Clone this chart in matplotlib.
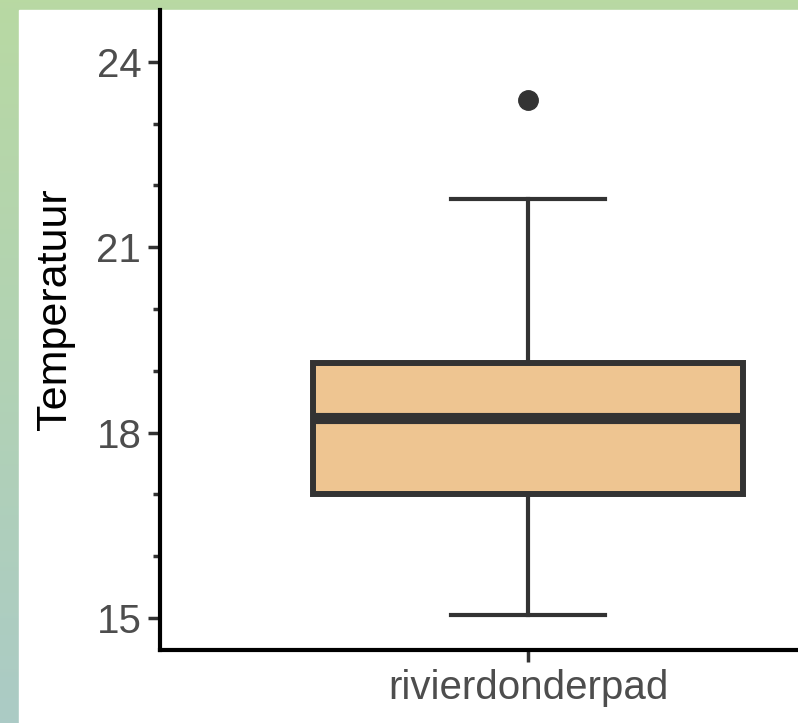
"""Boxplot van temperatuur per locatie."""

import matplotlib

matplotlib.use("Agg")
import matplotlib.pyplot as plt
import numpy as np
from matplotlib.patches import Rectangle

# waarden
locaties = ["rivierdonderpad"]
q1 = [17.0]
mediaan = [18.23]
q3 = [19.12]
whisker_laag = [15.05]
whisker_hoog = [21.78]
uitschieters = [[23.39]]

y_ticks = [15, 18, 21, 24]
y_minor = [16, 17, 19, 20, 22, 23]

TEKST_GRIJS = "#4d4d4d"
LIJN = "#333333"
VULLING = "#EEC591"

plt.rcParams["font.family"] = ["Liberation Sans", "DejaVu Sans"]

fig = plt.figure(figsize=(7.98, 7.23), dpi=100)

# achtergrond: groene rand met verloop, wit paneel
bg = fig.add_axes([0, 0, 1, 1], zorder=-10)
verloop = np.linspace(0, 1, 256).reshape(-1, 1)
kleur_boven = np.array([0.722, 0.851, 0.639])
kleur_onder = np.array([0.671, 0.796, 0.773])
img = kleur_boven + (kleur_onder - kleur_boven) * verloop[..., None]
bg.imshow(img, aspect="auto", extent=[0, 1, 0, 1], origin="upper")
bg.add_patch(Rectangle((19 / 798, 0), 1, (723 - 10) / 723, color="white"))
bg.set_xlim(0, 1)
bg.set_ylim(0, 1)
bg.axis("off")

ax = fig.add_axes([160 / 798, 73 / 723, 1 - 160 / 798, (650 - 10) / 723])
ax.set_facecolor("none")

stats = []
for i, naam in enumerate(locaties):
    stats.append(
        {
            "label": naam,
            "q1": q1[i],
            "med": mediaan[i],
            "q3": q3[i],
            "whislo": whisker_laag[i],
            "whishi": whisker_hoog[i],
            "fliers": uitschieters[i],
        }
    )

ax.bxp(
    stats,
    positions=[1],
    widths=0.75,
    patch_artist=True,
    boxprops=dict(facecolor=VULLING, edgecolor=LIJN, linewidth=4.3),
    medianprops=dict(color=LIJN, linewidth=8, solid_capstyle="butt"),
    whiskerprops=dict(color=LIJN, linewidth=3),
    capprops=dict(color=LIJN, linewidth=3),
    capwidths=0.27,
    flierprops=dict(marker="o", markerfacecolor=LIJN, markeredgecolor=LIJN,
                    markersize=14),
)

ax.set_xlim(0.358, 1.471)
ax.set_ylim(14.48, 24.84)
ax.set_yticks(y_ticks)
ax.set_yticks(y_minor, minor=True)
ax.set_xticks([1])
ax.set_xticklabels(locaties)

for kant in ["top", "right"]:
    ax.spines[kant].set_visible(False)
for kant in ["left", "bottom"]:
    ax.spines[kant].set_linewidth(3)
    ax.spines[kant].set_color("black")

ax.tick_params(axis="both", which="major", length=8.5, width=2.5, color=LIJN,
               labelsize=29, labelcolor=TEKST_GRIJS, pad=5)
ax.tick_params(axis="y", which="minor", length=5, width=2.5, color=LIJN)
ax.set_ylabel("Temperatuur", fontsize=31, color="black")
ax.yaxis.set_label_coords(-0.133, 0.533)

fig.savefig("out.png", dpi=100)
